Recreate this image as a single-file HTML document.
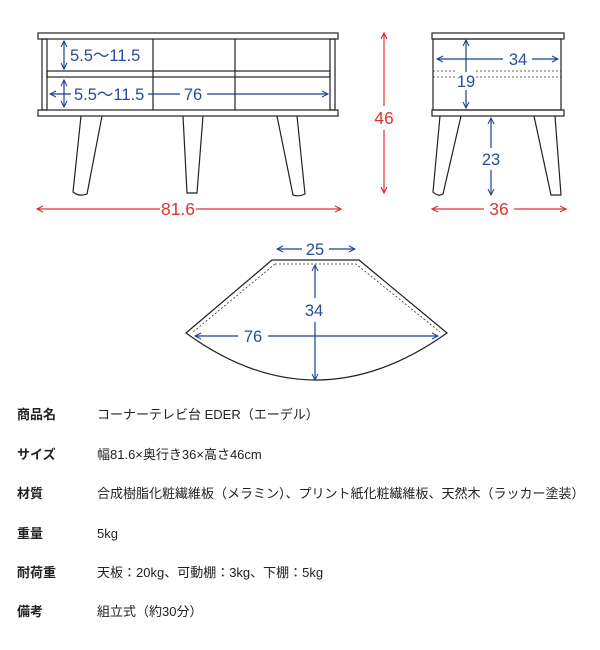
<!DOCTYPE html>
<html><head><meta charset="utf-8"><style>
html,body{margin:0;padding:0;background:#fff;width:600px;height:650px;overflow:hidden}
svg{position:absolute;left:0;top:0}
.t{position:absolute;font-family:"Liberation Sans","Noto Sans CJK JP",sans-serif;font-size:13px;color:#222;white-space:nowrap;line-height:16px}
.b{font-weight:bold}
</style></head><body>
<svg width="600" height="400" viewBox="0 0 600 400" font-family="Liberation Sans, sans-serif">
<defs>
<marker id="ab" markerWidth="8" markerHeight="8" refX="7" refY="4" orient="auto-start-reverse" markerUnits="userSpaceOnUse"><path d="M1,1 L7,4 L1,7" fill="none" stroke="#1a3f8f" stroke-width="1"/></marker>
</defs>
<g fill="none" stroke="#222" stroke-width="1.2">
<rect x="38" y="33" width="300" height="6"/>
<rect x="38" y="110" width="300" height="6"/>
<rect x="42" y="39" width="5" height="71"/>
<rect x="330" y="39" width="5" height="71"/>
<rect x="47" y="71" width="283" height="6"/>
<line x1="153" y1="39" x2="153" y2="110"/>
<line x1="235" y1="39" x2="235" y2="110"/>
<path d="M81,116 L73,192 Q79,197 87,194 L102,116"/>
<path d="M183,116 L187,193 L197,193 L203,116"/>
<path d="M277,116 L293,195 Q299,197 305,194 L297,116"/>
<rect x="432" y="33" width="132" height="6"/>
<rect x="432" y="110" width="132" height="6"/>
<rect x="433" y="39" width="128" height="71"/>
<path d="M440,116 L433,192 Q438,197 443,194 L461,116"/>
<path d="M534,116 L551,195 L561,195 L555,116"/>
<path d="M272,260 L359,260 L447,333 Q315,427 186,333 Z"/>
</g>
<g fill="none" stroke="#333" stroke-width="0.8" stroke-dasharray="2,2">
<line x1="433" y1="71" x2="455" y2="71"/><line x1="476" y1="71" x2="561" y2="71"/>
<line x1="433" y1="77" x2="455" y2="77"/><line x1="476" y1="77" x2="561" y2="77"/>
<path d="M275,264 L356,264 L440,332"/>
<path d="M275,264 L193,332"/>
</g>
<g stroke="#1a3f8f" stroke-width="1.2" fill="none">
<line x1="64" y1="41" x2="64" y2="69" marker-start="url(#ab)" marker-end="url(#ab)"/>
<line x1="64" y1="80" x2="64" y2="107" marker-start="url(#ab)" marker-end="url(#ab)"/>
<line x1="50" y1="94" x2="71" y2="94" marker-start="url(#ab)"/>
<line x1="148" y1="94" x2="180" y2="94"/>
<line x1="207" y1="94" x2="328" y2="94" marker-end="url(#ab)"/>
<line x1="437" y1="59" x2="503" y2="59" marker-start="url(#ab)"/>
<line x1="532" y1="59" x2="558" y2="59" marker-end="url(#ab)"/>
<line x1="466" y1="40" x2="466" y2="72" marker-start="url(#ab)"/>
<line x1="466" y1="90" x2="466" y2="108" marker-end="url(#ab)"/>
<line x1="491" y1="118" x2="491" y2="148" marker-start="url(#ab)"/>
<line x1="491" y1="170" x2="491" y2="195" marker-end="url(#ab)"/>
<line x1="277" y1="249" x2="302" y2="249" marker-start="url(#ab)"/>
<line x1="329" y1="249" x2="355" y2="249" marker-end="url(#ab)"/>
<line x1="315" y1="265" x2="315" y2="298" marker-start="url(#ab)"/>
<line x1="315" y1="322" x2="315" y2="380" marker-end="url(#ab)"/>
<line x1="195" y1="336" x2="238" y2="336" marker-start="url(#ab)"/>
<line x1="268" y1="336" x2="438" y2="336" marker-end="url(#ab)"/>
</g>
<path fill="none" stroke="#dd3333" stroke-width="1.2" d="M37,209 H160 M196,209 H341 M43,206 L37,209 L43,212 M335,206 L341,209 L335,212 M432,209 H484 M514,209 H566 M438,206 L432,209 L438,212 M560,206 L566,209 L560,212 M384,33 V106 M384,130 V193 M381,39 L384,33 L387,39 M381,187 L384,193 L387,187"/>
<g fill="#2a4a9a" font-size="16.5">
<text x="70" y="61">5.5〜11.5</text>
<text x="74" y="100">5.5〜11.5</text>
<text x="193" y="100" text-anchor="middle">76</text>
<text x="518" y="65" text-anchor="middle">34</text>
<text x="466" y="87" text-anchor="middle">19</text>
<text x="491" y="165" text-anchor="middle">23</text>
<text x="315" y="255" text-anchor="middle">25</text>
<text x="314" y="316" text-anchor="middle">34</text>
<text x="253" y="342" text-anchor="middle">76</text>
</g>
<g fill="#dd3333" font-size="17.5">
<text x="178" y="215" text-anchor="middle">81.6</text>
<text x="499" y="215" text-anchor="middle">36</text>
<text x="384" y="124" text-anchor="middle">46</text>
</g>
</svg>
<div class="t b" style="left:17px;top:407px">商品名</div><div class="t" style="left:97px;top:407px">コーナーテレビ台 EDER（エーデル）</div>
<div class="t b" style="left:17px;top:447px">サイズ</div><div class="t" style="left:97px;top:447px">幅81.6×奥行き36×高さ46cm</div>
<div class="t b" style="left:17px;top:486px">材質</div><div class="t" style="left:97px;top:486px">合成樹脂化粧繊維板（メラミン）、プリント紙化粧繊維板、天然木（ラッカー塗装）</div>
<div class="t b" style="left:17px;top:526px">重量</div><div class="t" style="left:97px;top:526px">5kg</div>
<div class="t b" style="left:17px;top:565px">耐荷重</div><div class="t" style="left:97px;top:565px">天板：20kg、可動棚：3kg、下棚：5kg</div>
<div class="t b" style="left:17px;top:604px">備考</div><div class="t" style="left:97px;top:604px">組立式（約30分）</div>
</body></html>
